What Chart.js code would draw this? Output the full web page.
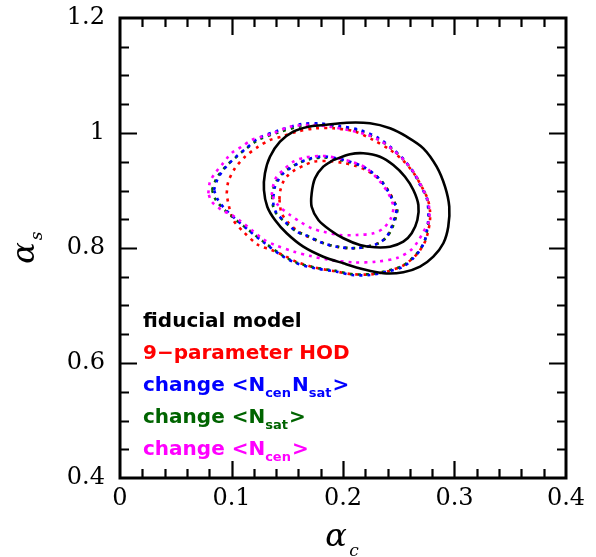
<!DOCTYPE html>
<html><head><meta charset="utf-8">
<script src="https://cdn.jsdelivr.net/npm/chart.js@4/dist/chart.umd.min.js"></script>
<style>html,body{margin:0;padding:0;background:#fff}#wrap{width:596px;height:557px}</style>
</head><body><div id="wrap"><canvas id="c" width="596" height="557"></canvas></div>
<script>
// ---- axis ranges / ticks ----
const xRange = [0, 0.4];
const yRange = [0.4, 1.2];
const xMajorStep = 0.1, xMinorStep = 0.02;
const yMajorStep = 0.2, yMinorStep = 0.05;

// ---- contour series [alpha_c, alpha_s] ----
const fiducialOuter = [[0.1823,1.0139],[0.2033,1.0179],[0.2242,1.0169],[0.2422,1.0082],[0.2571,0.9936],[0.2720,0.9734],[0.2840,0.9414],[0.2915,0.9066],[0.2953,0.8718],[0.2944,0.8370],[0.2900,0.8082],[0.2810,0.7849],[0.2691,0.7675],[0.2541,0.7577],[0.2361,0.7560],[0.2182,0.7630],[0.2003,0.7734],[0.1823,0.7849],[0.1644,0.8023],[0.1495,0.8256],[0.1390,0.8487],[0.1321,0.8718],[0.1291,0.9009],[0.1300,0.9299],[0.1345,0.9588],[0.1435,0.9849],[0.1554,1.0023],[0.1689,1.0110]];
const fiducialInner = [[0.1913,0.9530],[0.2063,0.9629],[0.2182,0.9647],[0.2332,0.9588],[0.2451,0.9443],[0.2556,0.9240],[0.2631,0.9009],[0.2676,0.8748],[0.2667,0.8487],[0.2616,0.8256],[0.2541,0.8110],[0.2422,0.8023],[0.2287,0.8012],[0.2152,0.8052],[0.2003,0.8169],[0.1883,0.8313],[0.1779,0.8487],[0.1719,0.8718],[0.1719,0.8951],[0.1749,0.9212],[0.1823,0.9414]];

const hod9Outer = [[0.0957,0.8951],[0.0971,0.9153],[0.1031,0.9386],[0.1121,0.9588],[0.1240,0.9762],[0.1345,0.9878],[0.1450,0.9936],[0.1585,1.0023],[0.1750,1.0080],[0.1913,1.0082],[0.2100,1.0030],[0.2272,0.9878],[0.2420,0.9710],[0.2540,0.9520],[0.2635,0.9300],[0.2705,0.9070],[0.2760,0.8850],[0.2780,0.8650],[0.2780,0.8480],[0.2765,0.8300],[0.2740,0.8130],[0.2690,0.7960],[0.2625,0.7820],[0.2535,0.7690],[0.2390,0.7590],[0.2242,0.7540],[0.2078,0.7545],[0.1943,0.7590],[0.1749,0.7660],[0.1585,0.7760],[0.1480,0.7860],[0.1360,0.7965],[0.1240,0.8052],[0.1106,0.8284],[0.1016,0.8487],[0.0971,0.8777]];
const hod9Inner = [[0.1430,0.8850],[0.1435,0.8979],[0.1465,0.9153],[0.1510,0.9270],[0.1570,0.9357],[0.1659,0.9443],[0.1734,0.9501],[0.1883,0.9510],[0.2000,0.9480],[0.2110,0.9430],[0.2200,0.9360],[0.2285,0.9260],[0.2355,0.9130],[0.2415,0.8970],[0.2460,0.8800],[0.2480,0.8680],[0.2470,0.8540],[0.2440,0.8370],[0.2395,0.8200],[0.2320,0.8085],[0.2210,0.8020],[0.2080,0.7995],[0.1950,0.8020],[0.1830,0.8080],[0.1680,0.8200],[0.1590,0.8300],[0.1500,0.8460],[0.1450,0.8600],[0.1435,0.8740]];

const cenSatOuter = [[0.0843,0.9009],[0.0879,0.9217],[0.0957,0.9426],[0.1040,0.9583],[0.1136,0.9739],[0.1240,0.9908],[0.1420,1.0043],[0.1630,1.0157],[0.1794,1.0165],[0.1973,1.0122],[0.2152,1.0052],[0.2317,0.9913],[0.2437,0.9739],[0.2541,0.9548],[0.2630,0.9322],[0.2691,0.9096],[0.2751,0.8864],[0.2765,0.8661],[0.2765,0.8487],[0.2751,0.8313],[0.2735,0.8139],[0.2691,0.7965],[0.2630,0.7821],[0.2541,0.7675],[0.2392,0.7588],[0.2242,0.7530],[0.2078,0.7530],[0.1943,0.7588],[0.1749,0.7647],[0.1585,0.7734],[0.1465,0.7849],[0.1300,0.8082],[0.1151,0.8313],[0.1047,0.8487],[0.0951,0.8661],[0.0879,0.8835]];
const cenSatInner = [[0.1375,0.8892],[0.1390,0.9066],[0.1420,0.9183],[0.1465,0.9299],[0.1525,0.9386],[0.1599,0.9473],[0.1704,0.9557],[0.1823,0.9591],[0.1943,0.9560],[0.2063,0.9501],[0.2182,0.9414],[0.2272,0.9299],[0.2347,0.9153],[0.2406,0.8979],[0.2451,0.8805],[0.2482,0.8696],[0.2466,0.8545],[0.2437,0.8371],[0.2392,0.8197],[0.2317,0.8082],[0.2213,0.8023],[0.2092,0.7995],[0.1943,0.8023],[0.1823,0.8082],[0.1659,0.8226],[0.1585,0.8284],[0.1480,0.8457],[0.1405,0.8603],[0.1377,0.8748]];

const satOuter = [[0.0825,0.9009],[0.0870,0.9226],[0.0950,0.9420],[0.1035,0.9570],[0.1130,0.9725],[0.1240,0.9880],[0.1420,1.0010],[0.1630,1.0120],[0.1800,1.0140],[0.1973,1.0100],[0.2152,1.0030],[0.2317,0.9890],[0.2440,0.9720],[0.2545,0.9530],[0.2635,0.9310],[0.2700,0.9090],[0.2755,0.8860],[0.2770,0.8660],[0.2770,0.8480],[0.2755,0.8310],[0.2735,0.8140],[0.2690,0.7970],[0.2625,0.7830],[0.2535,0.7690],[0.2390,0.7600],[0.2242,0.7545],[0.2078,0.7545],[0.1943,0.7600],[0.1749,0.7660],[0.1585,0.7745],[0.1465,0.7860],[0.1300,0.8090],[0.1150,0.8320],[0.1040,0.8490],[0.0940,0.8660],[0.0860,0.8835]];
const satInner = [[0.1365,0.8892],[0.1380,0.9066],[0.1412,0.9190],[0.1460,0.9305],[0.1520,0.9390],[0.1595,0.9470],[0.1700,0.9545],[0.1823,0.9575],[0.1943,0.9545],[0.2063,0.9490],[0.2182,0.9405],[0.2275,0.9290],[0.2352,0.9150],[0.2412,0.8975],[0.2460,0.8800],[0.2488,0.8690],[0.2475,0.8540],[0.2445,0.8365],[0.2395,0.8195],[0.2317,0.8080],[0.2210,0.8020],[0.2085,0.7998],[0.1943,0.8025],[0.1823,0.8085],[0.1659,0.8230],[0.1580,0.8290],[0.1475,0.8460],[0.1400,0.8605],[0.1370,0.8750]];

const cenOuter = [[0.0792,0.8951],[0.0807,0.9153],[0.0852,0.9299],[0.0912,0.9443],[0.0971,0.9588],[0.1016,0.9675],[0.1091,0.9762],[0.1181,0.9878],[0.1271,0.9936],[0.1375,0.9995],[0.1525,1.0110],[0.1704,1.0140],[0.1880,1.0110],[0.2050,1.0050],[0.2200,0.9980],[0.2330,0.9870],[0.2445,0.9710],[0.2550,0.9520],[0.2640,0.9300],[0.2705,0.9070],[0.2760,0.8830],[0.2775,0.8650],[0.2770,0.8460],[0.2720,0.8280],[0.2670,0.8110],[0.2610,0.7965],[0.2490,0.7830],[0.2300,0.7762],[0.2092,0.7750],[0.1860,0.7800],[0.1710,0.7860],[0.1560,0.7936],[0.1390,0.8052],[0.1285,0.8151],[0.1181,0.8313],[0.1076,0.8475],[0.1002,0.8574],[0.0912,0.8661],[0.0822,0.8806]];
const cenInner = [[0.1360,0.8922],[0.1375,0.9096],[0.1405,0.9240],[0.1465,0.9357],[0.1554,0.9501],[0.1660,0.9575],[0.1823,0.9600],[0.1943,0.9565],[0.2080,0.9500],[0.2213,0.9386],[0.2332,0.9153],[0.2406,0.8951],[0.2451,0.8720],[0.2430,0.8520],[0.2361,0.8342],[0.2272,0.8255],[0.2123,0.8226],[0.1973,0.8226],[0.1823,0.8284],[0.1719,0.8342],[0.1614,0.8458],[0.1525,0.8574],[0.1417,0.8748]];

// ---- legend ----
const seriesNames = ['fiducial model','9-parameter HOD','change <NcenNsat>','change <Nsat>','change <Ncen>'];
const seriesColors = ['#000000','#ff0000','#0000ff','#006400','#ff00ff'];
// legend text split into [text, isSubscript]
const legendParts = [
  [['fiducial model',0]],
  [['9\u2212parameter HOD',0]],
  [['change ',0],['<N',0],['cen',1],['N',0],['sat',1],['>',0]],
  [['change ',0],['<N',0],['sat',1],['>',0]],
  [['change ',0],['<N',0],['cen',1],['>',0]]
];

function mk(arr, color, dashed, width){
  const pts = arr.concat([arr[0]]).map(p => ({x:p[0], y:p[1]}));
  return {data: pts, showLine:true, borderColor:color, backgroundColor:color,
    borderWidth: width, borderDash: dashed ? [3,5] : [], pointRadius:0, tension:0.3, fill:false};
}
const datasets = [
  mk(fiducialOuter, seriesColors[0], false, 2.6),
  mk(fiducialInner, seriesColors[0], false, 2.6),
  mk(cenOuter, seriesColors[4], true, 2.6),
  mk(cenInner, seriesColors[4], true, 2.6),
  mk(cenSatOuter, seriesColors[2], true, 2.6),
  mk(cenSatInner, seriesColors[2], true, 2.6),
  mk(satOuter, seriesColors[3], true, 2.6),
  mk(satInner, seriesColors[3], true, 2.6),
  mk(hod9Outer, seriesColors[1], true, 2.6),
  mk(hod9Inner, seriesColors[1], true, 2.6)
];

const tickFont = {family:'"DejaVu Serif"', size:24};

const framePlugin = {
  id:'frame',
  afterDraw(chart){
    const ctx = chart.ctx, a = chart.chartArea;
    const xs = chart.scales.x, ys = chart.scales.y;
    ctx.save();
    ctx.strokeStyle = '#000'; ctx.lineWidth = 3; ctx.lineCap='butt';
    ctx.strokeRect(a.left, a.top, a.right - a.left, a.bottom - a.top);
    ctx.lineWidth = 2.2;
    const nx = Math.round((xRange[1]-xRange[0])/xMinorStep);
    for (let i=1;i<nx;i++){
      const v = xRange[0] + i*xMinorStep;
      const px = Math.round(xs.getPixelForValue(v)) + 0.5;
      const len = (i % Math.round(xMajorStep/xMinorStep) === 0) ? 17 : 9;
      ctx.beginPath(); ctx.moveTo(px, a.bottom); ctx.lineTo(px, a.bottom-len);
      ctx.moveTo(px, a.top); ctx.lineTo(px, a.top+len); ctx.stroke();
    }
    const ny = Math.round((yRange[1]-yRange[0])/yMinorStep);
    for (let i=1;i<ny;i++){
      const v = yRange[0] + i*yMinorStep;
      const py = Math.round(ys.getPixelForValue(v)) + 0.5;
      const len = (i % Math.round(yMajorStep/yMinorStep) === 0) ? 17 : 9;
      ctx.beginPath(); ctx.moveTo(a.left, py); ctx.lineTo(a.left+len, py);
      ctx.moveTo(a.right, py); ctx.lineTo(a.right-len, py); ctx.stroke();
    }
    // axis titles
    ctx.fillStyle = '#000';
    ctx.textAlign = 'center'; ctx.textBaseline = 'middle';
    ctx.font = 'italic 32px "DejaVu Serif"';
    ctx.fillText('\u03b1', 336, 538);
    ctx.font = 'italic 17px "DejaVu Serif"';
    ctx.fillText('c', 354, 552);
    ctx.save();
    ctx.translate(26, 253); ctx.rotate(-Math.PI/2);
    ctx.font = 'italic 32px "DejaVu Serif"';
    ctx.fillText('\u03b1', 0, 0);
    ctx.font = 'italic 17px "DejaVu Serif"';
    ctx.fillText('s', 17, 12);
    ctx.restore();
    // legend
    const x0 = 143, y0 = 327, dy = 32;
    ctx.textAlign = 'left'; ctx.textBaseline = 'alphabetic';
    legendParts.forEach((parts, k) => {
      let x = x0; const y = y0 + k*dy;
      ctx.fillStyle = seriesColors[k];
      parts.forEach(([t, sub]) => {
        ctx.font = sub ? 'bold 13px "DejaVu Sans"' : 'bold 20px "DejaVu Sans"';
        ctx.fillText(t, x, sub ? y + 6 : y);
        x += ctx.measureText(t).width + (sub ? 1 : 0);
      });
    });
    ctx.restore();
  }
};

new Chart(document.getElementById('c'), {
  type:'scatter',
  data:{datasets},
  options:{
    responsive:false, animation:false, devicePixelRatio:1,
    layout:{padding:{top:18, right:30, left:0, bottom:0}},
    plugins:{legend:{display:false}, tooltip:{enabled:false}},
    scales:{
      x:{type:'linear', min:xRange[0], max:xRange[1],
        afterFit(s){ s.height = 79; s.paddingLeft = 0; s.paddingRight = 0; },
        grid:{display:false, drawTicks:false}, border:{display:false},
        ticks:{stepSize:xMajorStep, color:'#000', font:tickFont, padding:6, maxRotation:0, autoSkip:false,
          callback:v => String(+v.toFixed(2))}},
      y:{type:'linear', min:yRange[0], max:yRange[1],
        afterFit(s){ s.width = 120; s.paddingTop = 0; s.paddingBottom = 0; },
        grid:{display:false, drawTicks:false}, border:{display:false},
        ticks:{stepSize:yMajorStep, color:'#000', font:tickFont, padding:15, autoSkip:false,
          callback:v => String(+v.toFixed(2))}}
    }
  },
  plugins:[framePlugin]
});
</script>
</body></html>
